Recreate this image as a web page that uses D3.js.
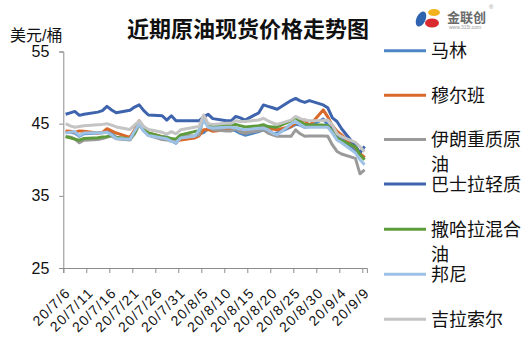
<!DOCTYPE html>
<html>
<head>
<meta charset="utf-8">
<script src="https://cdn.jsdelivr.net/npm/d3@7"></script>
<style>
  body { margin: 0; background: #fff; }
  svg text { font-family: "Liberation Sans", "Noto Sans CJK SC", sans-serif; }
</style>
</head>
<body>
<div id="chart"></div>
<script>
// 近期原油现货价格走势图 — data

const dates = [
  "2020-07-06","2020-07-07","2020-07-08","2020-07-09","2020-07-10",
  "2020-07-13","2020-07-14","2020-07-15","2020-07-16","2020-07-17",
  "2020-07-20","2020-07-21","2020-07-22","2020-07-23","2020-07-24",
  "2020-07-27","2020-07-28","2020-07-29","2020-07-30","2020-07-31",
  "2020-08-03","2020-08-04","2020-08-05","2020-08-06","2020-08-07",
  "2020-08-10","2020-08-11","2020-08-12","2020-08-13","2020-08-14",
  "2020-08-17","2020-08-18","2020-08-19","2020-08-20","2020-08-21",
  "2020-08-24","2020-08-25","2020-08-26","2020-08-27","2020-08-28",
  "2020-08-31","2020-09-01","2020-09-02","2020-09-03","2020-09-04",
  "2020-09-07","2020-09-08","2020-09-09"
];

const seriesNames = ["马林","穆尔班","伊朗重质原油","巴士拉轻质","撒哈拉混合油","邦尼","吉拉索尔"];

const maLin = [43.85,43.8,43.7,43.25,43.6, 43.7,43.75,43.9,43.6,43.1, 42.8,43.85,45.05,44.0,43.45,
  43.2,43.15,42.75,42.3,43.2, 43.2,43.55,43.75,44.35,44.15, 44.2,44.25,44.0,43.65,43.4,
  43.9,44.15,44.4,43.6,43.7, 44.55,44.9,44.8,44.5,44.6, 45.65,44.8,44.15,43.45,42.95, 41.35,40.7,40.3];
const murban = [44.0,43.95,43.8,44.0,43.95, 43.7,43.8,44.3,44.0,43.7, 43.1,44.15,45.4,44.4,43.7,
  43.2,42.95,42.75,42.5,42.75, 43.0,43.3,44.15,44.2,43.95, 44.15,44.15,44.4,44.0,43.7,
  44.4,44.5,44.4,44.25,44.15, 44.6,45.1,45.4,45.5,44.7, 46.9,45.95,44.7,43.95,43.45, 41.65,40.9,40.3];
const iranHeavy = [43.2,43.15,42.9,42.35,42.7, 42.8,42.95,43.15,43.3,42.9, 42.75,43.6,44.85,44.0,43.4,
  42.8,42.75,42.55,42.4,43.4, 43.3,43.45,45.85,44.55,44.15, 44.0,44.0,44.3,43.85,43.7,
  44.0,44.15,43.7,43.45,43.25, 43.25,44.15,43.6,43.25,43.3, 43.3,43.25,42.05,41.15,40.8, 40.2,38.05,38.6];
const basrahLight = [46.3,46.5,46.7,46.15,46.3, 46.6,46.8,47.4,46.9,46.5, 46.85,47.3,47.6,46.8,46.2,
  46.1,45.5,46.1,45.4,45.4, 45.4,45.4,45.95,46.3,45.7, 45.4,45.4,46.0,45.8,45.5,
  46.5,47.6,47.4,47.2,47.0, 48.2,48.5,48.15,47.95,48.2, 47.6,47.2,45.8,45.3,44.3, 41.9,40.95,41.85];
const saharan = [43.2,43.05,42.85,42.7,42.95, 43.05,43.15,43.2,43.4,43.1, 42.9,43.7,45.1,44.3,43.7,
  43.2,43.1,42.95,42.85,43.45, 43.9,44.0,45.75,44.8,44.6, 44.8,44.8,44.9,44.7,44.55,
  44.7,44.85,44.6,44.55,44.55, 45.4,45.85,45.25,44.9,44.85, 44.8,44.7,43.9,43.0,42.65, 41.8,40.7,40.0];
const bonny = [43.7,43.8,43.9,43.35,43.7, 43.75,43.75,43.8,43.45,42.95, 42.85,44.0,44.95,43.95,43.35,
  43.0,42.9,42.55,42.4,43.0, 43.25,44.05,45.5,44.5,44.4, 44.5,44.5,44.4,44.25,44.15,
  44.35,44.4,44.15,43.7,43.45, 44.95,45.3,44.9,44.5,44.5, 44.5,44.5,43.7,42.75,42.35, 40.95,40.0,39.3];
const girassol = [45.0,44.7,44.5,44.6,44.7, 44.85,44.9,45.0,44.8,44.55, 44.2,44.8,45.4,44.6,44.2,
  43.8,43.55,43.9,43.6,44.15, 44.5,44.6,46.2,45.0,44.9, 45.05,45.05,45.4,45.3,45.3,
  45.5,45.75,45.4,45.1,44.9, 45.5,46.0,45.7,45.5,45.4, 45.45,45.5,44.8,43.6,43.2, 42.4,41.8,41.1];

const yTicks = [25, 35, 45, 55];
const xTickDates = ["2020-07-06","2020-07-11","2020-07-16","2020-07-21","2020-07-26","2020-07-31",
  "2020-08-05","2020-08-10","2020-08-15","2020-08-20","2020-08-25","2020-08-30","2020-09-04","2020-09-09"];

const colors = ["#4F86C6","#D9692B","#9A9A9A","#3E64AE","#5E9B3D","#9DC2E6","#C4C4C4"];
const allValues = [maLin, murban, iranHeavy, basrahLight, saharan, bonny, girassol];

const W = 531, H = 354;
const parse = d3.utcParse("%Y-%m-%d");

const svg = d3.select("#chart").append("svg")
  .attr("width", W).attr("height", H);

const x = d3.scaleUtc()
  .domain([parse("2020-07-06"), parse("2020-09-10")])
  .range([63.3, 366.9]);
const y = d3.scaleLinear().domain([25, 55]).range([268, 51.5]);

// title
svg.append("text")
  .attr("x", 248).attr("y", 37)
  .attr("text-anchor", "middle")
  .attr("font-size", 22).attr("font-weight", "700")
  .attr("fill", "#111")
  .text("近期原油现货价格走势图");

svg.append("text")
  .attr("x", 10).attr("y", 41)
  .attr("font-size", 16).attr("fill", "#111")
  .text("美元/桶");

// logo (rough)
const logo = svg.append("g");
logo.append("ellipse").attr("cx", 421).attr("cy", 19).attr("rx", 4.5).attr("ry", 8)
  .attr("transform", "rotate(25,421,19)").attr("fill", "#2E63B0");
logo.append("ellipse").attr("cx", 432).attr("cy", 23).attr("rx", 7).attr("ry", 4.5)
  .attr("fill", "#D92B2F");
logo.append("ellipse").attr("cx", 434).attr("cy", 12.5).attr("rx", 6).attr("ry", 3.5)
  .attr("fill", "#F2B21E");
logo.append("text").attr("x", 447).attr("y", 22).attr("font-size", 13)
  .attr("font-weight", "700").attr("fill", "#6b6b6b").text("金联创");
logo.append("text").attr("x", 449).attr("y", 29).attr("font-size", 5)
  .attr("fill", "#999").text("www.315i.com");
logo.append("text").attr("x", 489).attr("y", 9).attr("font-size", 6)
  .attr("fill", "#999").text("®");

// y axis
const yAxis = svg.append("g")
  .attr("transform", "translate(63.3,0)")
  .call(d3.axisLeft(y).tickValues(yTicks).tickSize(4).tickPadding(10));
yAxis.selectAll("text").attr("font-size", 16).attr("fill", "#111");

// x axis
const xAxis = svg.append("g")
  .attr("transform", "translate(0,268)")
  .call(d3.axisBottom(x).tickValues(xTickDates.map(parse)).tickSize(5).tickFormat(d3.utcFormat("%y/%-m/%-d")));
xAxis.selectAll("text")
  .attr("font-size", 14).attr("fill", "#111")
  .attr("letter-spacing", "1.3px")
  .attr("text-anchor", "end")
  .attr("dy", null)
  .attr("transform", "translate(2,20) rotate(-45)");

svg.selectAll(".domain, .tick line").attr("stroke", "#8c8c8c");

// lines
const points = dates.map(s => d3.utcHour.offset(parse(s), 12));
const line = d3.line()
  .x((d, i) => x(points[i]))
  .y(d => y(d));

allValues.forEach((vals, k) => {
  svg.append("path")
    .datum(vals)
    .attr("fill", "none")
    .attr("stroke", colors[k])
    .attr("stroke-width", 3)
    .attr("stroke-linejoin", "round")
    .attr("d", line);
});

// legend
const legendY = [50.7, 95.3, 139.5, 184, 229.3, 274.3, 319.3];
seriesNames.forEach((name, k) => {
  const g = svg.append("g").attr("transform", `translate(384,${legendY[k]})`);
  g.append("line").attr("x1", 0).attr("x2", 42).attr("y1", 0).attr("y2", 0)
    .attr("stroke", colors[k]).attr("stroke-width", 3);
  const lines = [];
  for (let i = 0; i < name.length; i += 5) lines.push(name.slice(i, i + 5));
  lines.forEach((t, j) => {
    g.append("text")
      .attr("x", 47).attr("y", 6.5 + j * 25)
      .attr("font-size", 18).attr("fill", "#111")
      .text(t);
  });
});
</script>
</body>
</html>
